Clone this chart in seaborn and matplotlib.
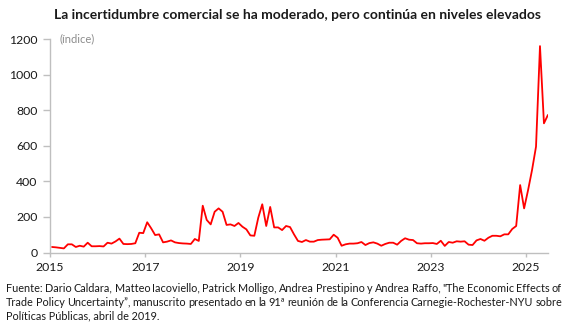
import matplotlib
matplotlib.use("Agg")
import matplotlib.pyplot as plt
import seaborn as sns
import pandas as pd
import numpy as np

# Monthly trade policy uncertainty index, January 2015 - June 2025
tpu_2015 = [31, 29, 26, 23, 46, 46, 31, 38, 33, 55, 35, 35]
tpu_2016 = [36, 34, 55, 50, 62, 78, 48, 47, 48, 52, 111, 109]
tpu_2017 = [170, 136, 98, 102, 57, 61, 68, 57, 53, 51, 50, 48]
tpu_2018 = [76, 65, 263, 183, 158, 229, 248, 229, 155, 158, 149, 166]
tpu_2019 = [145, 130, 96, 94, 196, 271, 149, 256, 141, 141, 126, 149]
tpu_2020 = [143, 102, 65, 59, 70, 61, 61, 70, 72, 73, 74, 100]
tpu_2021 = [83, 38, 46, 50, 50, 52, 59, 42, 53, 57, 50, 38]
tpu_2022 = [48, 55, 55, 44, 65, 80, 72, 70, 52, 50, 52, 52]
tpu_2023 = [53, 48, 66, 37, 59, 55, 63, 61, 63, 44, 42, 68]
tpu_2024 = [76, 66, 83, 94, 94, 91, 102, 102, 132, 149, 379, 248]
tpu_2025 = [351, 464, 595, 1160, 726, 773]

x_ticks = [2015, 2017, 2019, 2021, 2023, 2025]
y_ticks = [0, 200, 400, 600, 800, 1000, 1200]

title = "La incertidumbre comercial se ha moderado, pero continúa en niveles elevados"
unit_label = "(índice)"
source_lines = [
    "Fuente: Dario Caldara, Matteo Iacoviello, Patrick Molligo, Andrea Prestipino y Andrea Raffo, \"The Economic Effects of",
    "Trade Policy Uncertainty”, manuscrito presentado en la 91ª reunión de la Conferencia Carnegie-Rochester-NYU sobre",
    "Políticas Públicas, abril de 2019.",
]

series = (tpu_2015 + tpu_2016 + tpu_2017 + tpu_2018 + tpu_2019 + tpu_2020
          + tpu_2021 + tpu_2022 + tpu_2023 + tpu_2024 + tpu_2025)
month_idx = np.arange(len(series))
df = pd.DataFrame({"fecha": 2015 + (month_idx + 0.5) / 12, "indice": series})

sns.set_theme(style="white")
plt.rcParams["font.family"] = ["Lato", "DejaVu Sans"]

W, H = 568, 328
fig = plt.figure(figsize=(W / 100, H / 100), dpi=100)
ax = fig.add_axes([50 / W, 1 - 252.5 / H, (548 - 50) / W, (252.5 - 39) / H])

sns.lineplot(data=df, x="fecha", y="indice", color="#ff0000", linewidth=1.3, ax=ax)

ax.set_xlim(2015, 2025.46)
ax.set_ylim(0, 1200)
ax.set_xticks(x_ticks)
ax.set_xticklabels([str(t) for t in x_ticks])
ax.set_yticks(y_ticks)
ax.set_yticklabels([str(t) for t in y_ticks])
ax.set_xlabel("")
ax.set_ylabel("")

grey = "#bfbfbf"
for side in ["top", "right"]:
    ax.spines[side].set_visible(False)
for side in ["left", "bottom"]:
    ax.spines[side].set_color(grey)
    ax.spines[side].set_linewidth(1.0)

ax.tick_params(axis="y", direction="out", length=5, width=1, color=grey,
               pad=4, labelsize=8.8, labelcolor="#1a1a1a", left=True)
ax.tick_params(axis="x", direction="out", length=3, width=1, color=grey,
               pad=4, labelsize=8.8, labelcolor="#1a1a1a", bottom=True)

ax.text(0.02, 1.0, unit_label, transform=ax.transAxes, ha="left", va="center",
        fontsize=8, color="#8c8c8c")

fig.text(298 / W, 1 - 15 / H, title, ha="center", va="center",
         fontsize=10, fontweight="bold", color="#1a1a1a")


def justified_line(text, x0, x1, y, **kw):
    words = text.split(" ")
    renderer = fig.canvas.get_renderer()
    objs = [fig.text(0, y, w, ha="left", va="center", **kw) for w in words]
    widths = [o.get_window_extent(renderer).width for o in objs]
    gap = ((x1 - x0) - sum(widths)) / (len(words) - 1)
    x = x0
    for o, w in zip(objs, widths):
        o.set_x(x / W)
        x += w + gap


note_kw = dict(fontsize=7.8, color="#1a1a1a")
justified_line(source_lines[0], 6, 562, 1 - 288 / H, **note_kw)
justified_line(source_lines[1], 6, 562, 1 - 302 / H, **note_kw)
fig.text(6 / W, 1 - 316 / H, source_lines[2], ha="left", va="center", **note_kw)

fig.savefig("out.png", dpi=100)
